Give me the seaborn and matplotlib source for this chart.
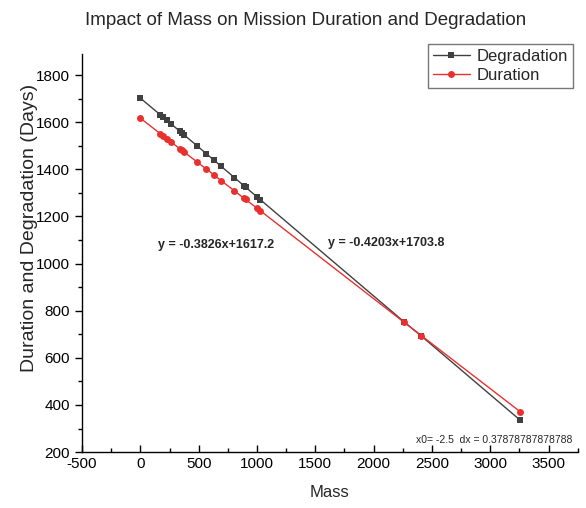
import pandas as pd
import matplotlib.pyplot as plt
import seaborn as sns
from matplotlib.ticker import MultipleLocator

# values
mass = [0, 172, 194, 229, 263, 337, 357, 377, 486, 566, 629, 692, 806, 886, 903, 1000, 1029, 2258, 2410, 3255]
degradation = [1702, 1631, 1622, 1608, 1593, 1562, 1554, 1545, 1500, 1466, 1440, 1413,
               1365, 1331, 1324, 1283, 1271, 754, 692, 336]
duration = [1617, 1551, 1543, 1530, 1516, 1488, 1480, 1473, 1431, 1401, 1377, 1352,
            1309, 1278, 1272, 1235, 1224, 752, 694, 372]
series_names = ['Degradation', 'Duration']
series_colors = {'Degradation': '#404040', 'Duration': '#e8312f'}
series_markers = {'Degradation': 's', 'Duration': 'o'}

df = pd.concat([
    pd.DataFrame({'Mass': mass, 'Days': degradation, 'Series': 'Degradation'}),
    pd.DataFrame({'Mass': mass, 'Days': duration, 'Series': 'Duration'}),
], ignore_index=True)

sns.set_style('ticks')
plt.rcParams['font.family'] = ['Liberation Sans', 'DejaVu Sans']
plt.rcParams['axes.unicode_minus'] = False

fig = plt.figure(figsize=(5.86, 5.08), dpi=100)
ax = fig.add_axes([0.140, 0.110, 0.846, 0.784])

sns.lineplot(data=df, x='Mass', y='Days', hue='Series', style='Series',
             hue_order=series_names, style_order=series_names,
             palette=series_colors, markers=series_markers, dashes=False,
             markersize=5, markeredgewidth=0, linewidth=1, sort=True,
             estimator=None, ax=ax)

ax.set_xlim(-500, 3750)
ax.set_ylim(200, 1890)
ax.xaxis.set_major_locator(MultipleLocator(500))
ax.xaxis.set_minor_locator(MultipleLocator(250))
ax.yaxis.set_major_locator(MultipleLocator(200))
ax.yaxis.set_minor_locator(MultipleLocator(100))
ax.tick_params(axis='both', which='major', labelsize=11, length=5, width=1, colors='black')
ax.tick_params(axis='both', which='minor', length=3, width=1, colors='black')
ax.tick_params(axis='x', which='both', direction='in')
for side in ['top', 'right']:
    ax.spines[side].set_visible(False)
for side in ['left', 'bottom']:
    ax.spines[side].set_color('black')
    ax.spines[side].set_linewidth(1)

ax.set_xlabel('Mass', fontsize=12, labelpad=10)
ax.set_ylabel('Duration and Degradation (Days)', fontsize=14)
ax.yaxis.set_label_coords(-0.088, 0.564)

fig.text(0.521, 0.960, 'Impact of Mass on Mission Duration and Degradation',
         ha='center', va='center', fontsize=13.5)

ax.text(0.153, 0.52, 'y = -0.3826x+1617.2', transform=ax.transAxes,
        fontsize=9, fontweight='bold', ha='left', va='center')
ax.text(0.496, 0.525, 'y = -0.4203x+1703.8', transform=ax.transAxes,
        fontsize=9, fontweight='bold', ha='left', va='center')
ax.text(0.99, 0.03, 'x0= -2.5  dx = 0.37878787878788', transform=ax.transAxes,
        fontsize=7.5, ha='right', va='center')

leg = ax.legend(loc='upper right', bbox_to_anchor=(0.99, 1.025), fontsize=12,
                frameon=True, fancybox=False, handlelength=2.2, handletextpad=0.4,
                borderpad=0.3, labelspacing=0.25, borderaxespad=0)
leg.get_frame().set_edgecolor('#555555')
leg.get_frame().set_linewidth(1)

fig.savefig('out.png', dpi=100)
plt.close(fig)
